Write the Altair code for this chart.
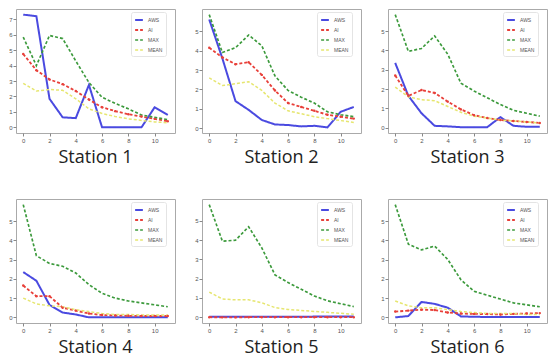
import altair as alt
import pandas as pd

xs = list(range(12))
series = ["AWS", "AI", "MAX", "MEAN"]
stations = ["Station 1", "Station 2", "Station 3", "Station 4", "Station 5", "Station 6"]

aws = [
    [7.3, 7.2, 1.85, 0.65, 0.6, 2.75, 0.0, 0.0, 0.0, 0.0, 1.3, 0.8],
    [5.6, 3.6, 1.4, 0.95, 0.43, 0.2, 0.17, 0.1, 0.13, 0.05, 0.85, 1.1],
    [3.35, 1.65, 0.75, 0.1, 0.07, 0.03, 0.02, 0.03, 0.55, 0.1, 0.05, 0.05],
    [2.35, 1.9, 0.65, 0.25, 0.15, 0.0, 0.0, 0.0, 0.0, 0.0, 0.0, 0.0],
    [0.02, 0.02, 0.02, 0.02, 0.02, 0.02, 0.02, 0.02, 0.03, 0.03, 0.03, 0.03],
    [0.0, 0.07, 0.8, 0.7, 0.5, 0.05, 0.03, 0.02, 0.02, 0.02, 0.02, 0.02],
]
ai = [
    [4.75, 3.7, 3.1, 2.8, 2.35, 1.8, 1.3, 1.05, 0.85, 0.7, 0.55, 0.4],
    [4.15, 3.65, 3.3, 3.4, 2.75, 1.95, 1.3, 1.1, 0.9, 0.7, 0.6, 0.5],
    [2.7, 1.65, 1.95, 1.8, 1.35, 0.95, 0.65, 0.5, 0.4, 0.35, 0.3, 0.25],
    [1.65, 1.1, 1.1, 0.5, 0.35, 0.2, 0.12, 0.1, 0.08, 0.07, 0.07, 0.07],
    [0.0, -0.01, -0.01, 0.0, 0.0, 0.0, 0.0, 0.0, 0.0, 0.0, 0.0, 0.0],
    [0.3, 0.35, 0.4, 0.38, 0.25, 0.2, 0.18, 0.17, 0.15, 0.18, 0.2, 0.22],
]
mx = [
    [5.85, 4.0, 5.95, 5.75, 4.3, 2.9, 1.95, 1.55, 1.2, 0.8, 0.65, 0.5],
    [5.85, 3.9, 4.15, 4.8, 4.25, 2.7, 1.95, 1.6, 1.3, 0.85, 0.7, 0.6],
    [5.85, 3.95, 4.1, 4.75, 3.8, 2.3, 1.9, 1.55, 1.2, 0.9, 0.75, 0.6],
    [5.85, 3.2, 2.8, 2.65, 2.3, 1.7, 1.25, 1.0, 0.85, 0.75, 0.65, 0.55],
    [5.85, 3.95, 4.0, 4.7, 3.6, 2.2, 1.8, 1.45, 1.1, 0.85, 0.7, 0.55],
    [5.85, 3.8, 3.5, 3.7, 3.0, 1.95, 1.35, 1.15, 0.95, 0.75, 0.65, 0.55],
]
mean = [
    [2.85, 2.35, 2.45, 2.4, 1.85, 1.2, 0.9, 0.7, 0.55, 0.45, 0.35, 0.3],
    [2.6, 2.2, 2.3, 2.4, 1.95, 1.3, 0.9, 0.75, 0.6, 0.5, 0.4, 0.3],
    [2.1, 1.6, 1.45, 1.4, 1.1, 0.8, 0.6, 0.5, 0.4, 0.35, 0.3, 0.25],
    [1.0, 0.7, 0.6, 0.55, 0.4, 0.3, 0.2, 0.15, 0.15, 0.12, 0.12, 0.12],
    [1.3, 0.95, 0.9, 0.9, 0.75, 0.5, 0.4, 0.35, 0.3, 0.25, 0.2, 0.15],
    [0.85, 0.6, 0.5, 0.5, 0.4, 0.3, 0.25, 0.2, 0.2, 0.2, 0.15, 0.15],
]

colors = ["#4a4ae0", "#e8403a", "#3c9a3c", "#e6e670"]
dashes = [[1, 0], [3, 2], [3, 2], [3, 2]]
widths = [2, 1.5, 1.5, 1.5]

W, H = 159, 124


def panel(i):
    rows = []
    for name, arr in zip(series, [aws, ai, mx, mean]):
        for x, v in zip(xs, arr[i]):
            rows.append({"x": x, "v": v, "s": name})
    df = pd.DataFrame(rows)
    vals = df["v"]
    lo, hi = vals.min(), vals.max()
    pad = (hi - lo) * 0.05
    xsc = alt.Scale(domain=[-0.55, 11.55], nice=False, zero=False)
    ysc = alt.Scale(domain=[lo - pad, hi + pad], nice=False, zero=False)
    base = alt.Chart(df).encode(
        x=alt.X("x:Q", scale=xsc, title=None,
                axis=alt.Axis(values=[0, 2, 4, 6, 8, 10])),
        y=alt.Y("v:Q", scale=ysc, title=None,
                axis=alt.Axis(values=list(range(0, int(hi) + 1)))),
    )
    lines = base.mark_line().encode(
        color=alt.Color("s:N", scale=alt.Scale(domain=series, range=colors),
                        sort=series, title=None,
                        legend=alt.Legend(orient="none", legendX=W - 44, legendY=3,
                                          symbolType="stroke",
                                          labelFontSize=5, symbolSize=60,
                                          symbolStrokeWidth=1.5, rowPadding=1,
                                          labelColor="#555", padding=3,
                                          strokeColor="#e4e4e4", cornerRadius=2)),
        strokeDash=alt.StrokeDash("s:N", scale=alt.Scale(domain=series, range=dashes),
                                  sort=series, legend=None),
        strokeWidth=alt.StrokeWidth("s:N", scale=alt.Scale(domain=series, range=widths),
                                    legend=None),
        order=alt.Order("x:Q"),
    )
    pts = base.transform_filter(alt.datum.s == "AI").mark_point(
        filled=True, size=6, color="#e8403a", opacity=1)
    return alt.layer(lines, pts).properties(
        width=W, height=H,
        title=alt.TitleParams(stations[i], orient="bottom", fontSize=18,
                              font="Open Sans", fontWeight="normal",
                              color="#222", offset=6),
    )


def indep(c):
    return c.resolve_scale(color="independent", strokeDash="independent",
                           strokeWidth="independent")


row1 = indep(alt.hconcat(panel(0), panel(1), panel(2), spacing=18))
row2 = indep(alt.hconcat(panel(3), panel(4), panel(5), spacing=18))
chart = indep(alt.vconcat(row1, row2, spacing=30)).configure(
    padding=0, background="white"
).configure_view(
    stroke="#aaa", strokeWidth=1
).configure_axis(
    grid=False, domain=False, labelFontSize=6, labelColor="#555",
    tickColor="#888", tickSize=3, labelPadding=1
)

chart.save("out.html", embed_options={"renderer": "svg", "actions": False})
